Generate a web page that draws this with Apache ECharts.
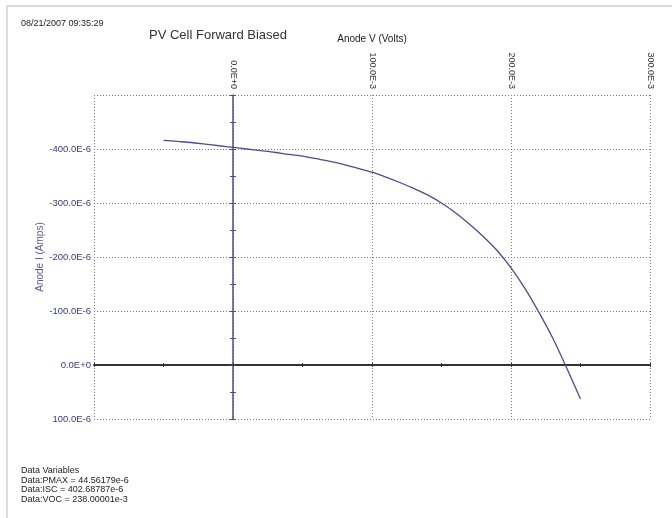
<!DOCTYPE html>
<html><head><meta charset="utf-8">
<script src="https://cdn.jsdelivr.net/npm/echarts@6/dist/echarts.min.js"></script>
<style>html,body{margin:0;padding:0;background:#fff}#c{width:672px;height:518px}</style>
</head><body><div id="c"></div>
<script>
// Anode V in mV, Anode I in µA
const voltage = [-50, -40, -30, -20, -10, 0, 10, 20, 30, 40, 50, 60, 70, 80, 90, 100, 110, 120, 130, 140, 150, 160, 170, 180, 190, 200, 210, 220, 230, 240, 250];
const current = [-416, -414, -412, -409, -406, -403, -400, -397, -394, -390, -387, -382, -377, -371, -364, -357, -348, -338, -327, -315, -300, -282, -261, -238, -212, -180, -142, -98, -50, 5, 63];
const xTicks = [-100, 0, 100, 200, 300];
const xTickLabels = ['', '0.0E+0', '100.0E-3', '200.0E-3', '300.0E-3'];
const yTicks = [-500, -400, -300, -200, -100, 0, 100];
const yTickLabels = ['', '-400.0E-6', '-300.0E-6', '-200.0E-6', '-100.0E-6', '0.0E+0', '100.0E-6'];
const dateText = '08/21/2007 09:35:29';
const titleText = 'PV Cell Forward Biased';
const xName = 'Anode V (Volts)';
const yName = 'Anode I (Amps)';
const dataVariables = ['Data Variables', 'Data:PMAX = 44.56179e-6', 'Data:ISC = 402.68787e-6', 'Data:VOC = 238.00001e-3'];

const FONT = 'Liberation Sans, Arial, sans-serif';
const chart = echarts.init(document.getElementById('c'), null, {renderer: 'canvas'});
const dotted = {color: '#7a7a7a', width: 1, type: [1, 2]};
const X_RANGE = {min: -100, max: 300};
const Y_RANGE = {min: -500, max: 100};
const zeroX = (idx, inside) => ({
  type: 'value', position: 'bottom', ...X_RANGE, interval: 50, z: 5,
  axisLine: {show: !inside, onZero: true, onZeroAxisIndex: idx, lineStyle: {color: '#333', width: 2}},
  axisTick: {show: true, inside: inside, length: 2, lineStyle: {color: '#333'}},
  axisLabel: {show: false}, splitLine: {show: false}
});
const zeroY = (idx, inside) => ({
  type: 'value', inverse: true, ...Y_RANGE, interval: 50, position: 'left', z: 5,
  axisLine: {show: !inside, onZero: true, onZeroAxisIndex: idx, lineStyle: {color: '#4b4b93', width: 1.5}},
  axisTick: {show: true, inside: inside, length: 3, lineStyle: {color: '#4b4b93'}},
  axisLabel: {show: false}, splitLine: {show: false}
});
const option = {
  animation: false,
  backgroundColor: '#fff',
  title: {
    text: titleText, left: 149, top: 29, padding: 0,
    textStyle: {fontFamily: FONT, fontSize: 13, fontWeight: 'normal', color: '#333'}
  },
  grid: {left: 94, right: 22, top: 95, bottom: 99, containLabel: false},
  xAxis: [
    {
      type: 'value', position: 'top', ...X_RANGE, interval: 100,
      name: xName, nameLocation: 'middle', nameGap: 51,
      nameTextStyle: {fontFamily: FONT, fontSize: 10, color: '#222'},
      axisLine: {show: false, onZero: false}, axisTick: {show: false},
      axisLabel: {rotate: 90, margin: 6, fontFamily: FONT, fontSize: 9, color: '#333',
        formatter: v => { const i = xTicks.indexOf(v); return i >= 0 ? xTickLabels[i] : ''; }},
      splitLine: {show: true, lineStyle: dotted}
    },
    zeroX(0, false),
    zeroX(1, true)
  ],
  yAxis: [
    {
      type: 'value', inverse: true, ...Y_RANGE, interval: 100,
      name: yName, nameLocation: 'middle', nameRotate: 90, nameGap: 49, nameMoveOverlap: false,
      nameTextStyle: {fontFamily: FONT, fontSize: 10, color: '#5a5a98'},
      axisLine: {show: false, onZero: false}, axisTick: {show: false},
      axisLabel: {margin: 3, fontFamily: FONT, fontSize: 9.5, color: '#3a3a74',
        formatter: v => { const i = yTicks.indexOf(v); return i >= 0 ? yTickLabels[i] : ''; }},
      splitLine: {show: true, lineStyle: dotted}
    },
    zeroY(0, false),
    zeroY(1, true)
  ],
  series: [{
    type: 'line', xAxisIndex: 0, yAxisIndex: 0, z: 6,
    data: voltage.map((v, i) => [v, current[i]]),
    showSymbol: false, smooth: 0.3,
    lineStyle: {color: '#4c4c8e', width: 1.3}
  }],
  graphic: [
    {type: 'rect', shape: {x: 7, y: 6, width: 700, height: 600}, silent: true,
      style: {fill: 'none', stroke: '#dcdcdc', lineWidth: 2}},
    {type: 'text', left: 21, top: 19, style: {text: dateText, font: '9px ' + FONT, fill: '#222'}},
    {type: 'text', left: 21, top: 466, style: {text: dataVariables.join('\n'), font: '9px ' + FONT, lineHeight: 9.5, fill: '#222'}}
  ]
};
chart.setOption(option);
</script></body></html>
